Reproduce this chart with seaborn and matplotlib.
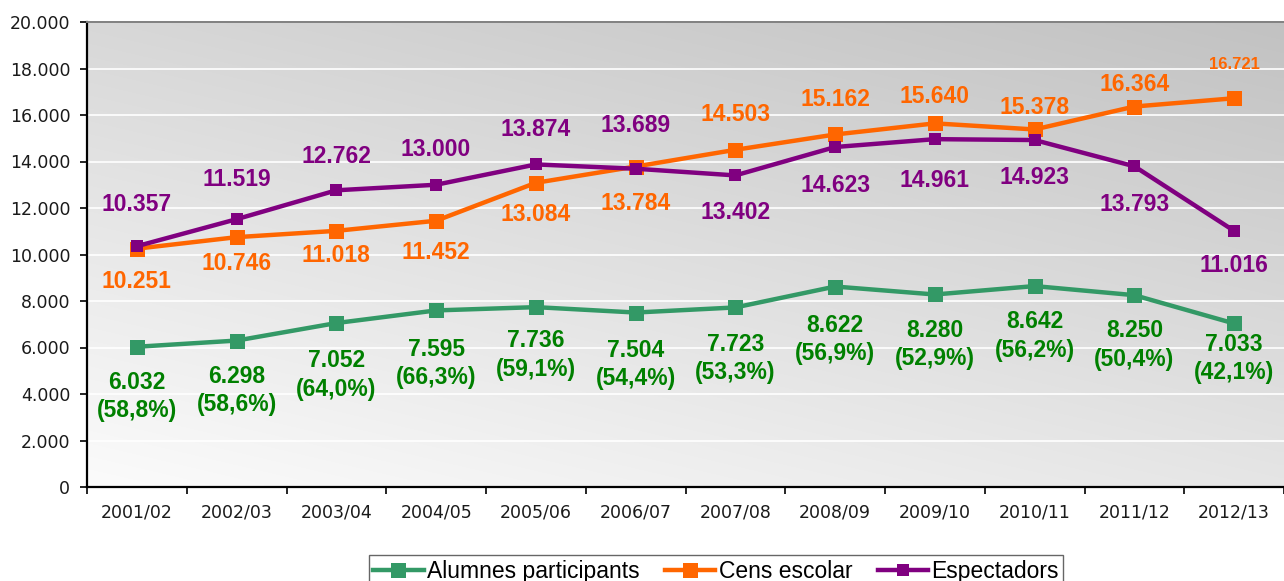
import numpy as np
import pandas as pd
import matplotlib
matplotlib.use("Agg")
import matplotlib.pyplot as plt
import seaborn as sns

# ---- data ----
years = ["2001/02", "2002/03", "2003/04", "2004/05", "2005/06", "2006/07",
         "2007/08", "2008/09", "2009/10", "2010/11", "2011/12", "2012/13"]
alumnes = [6032, 6298, 7052, 7595, 7736, 7504, 7723, 8622, 8280, 8642, 8250, 7033]
alumnes_pct = ["58,8%", "58,6%", "64,0%", "66,3%", "59,1%", "54,4%",
               "53,3%", "56,9%", "52,9%", "56,2%", "50,4%", "42,1%"]
cens = [10251, 10746, 11018, 11452, 13084, 13784, 14503, 15162, 15640, 15378, 16364, 16721]
espectadors = [10357, 11519, 12762, 13000, 13874, 13689, 13402, 14623, 14961, 14923, 13793, 11016]
series_names = ["Alumnes participants", "Cens escolar", "Espectadors"]
yticks = [0, 2000, 4000, 6000, 8000, 10000, 12000, 14000, 16000, 18000, 20000]

# ---- styles ----
line_colors = ["#339966", "#FF6600", "#800080"]
label_colors = ["#008000", "#FF6600", "#800080"]
marker_sizes = [10.8, 10.8, 8.0]
# label vertical offsets in pixels (positive = below the point)
green_off = [50, 50, 52, 53, 48, 52, 51, 53, 50, 50, 50, 35]
orange_off = [33, 26, 25, 32, 32, 37, -35, -35, -27, -22, -22, -34]
purple_off = [-42, -40, -34, -35, -35, -43, 37, 38, 41, 37, 38, 35]

W, H = 1284, 581
fig = plt.figure(figsize=(W / 100, H / 100), dpi=100)
ax = fig.add_axes([87 / W, 94 / H, (W - 87) / W, 465 / H])

# gradient background
nx, ny = 200, 100
gx = np.linspace(0, 1, nx)[None, :]
gy = np.linspace(1, 0, ny)[:, None]
g = 0.985 - 0.085 * gx - 0.14 * gy
rgb = np.dstack([g, g, g])
ax.imshow(rgb, extent=[0, 1, 0, 1], transform=ax.transAxes, aspect="auto",
          zorder=-1, interpolation="bilinear")

df = pd.DataFrame({"year": years, series_names[0]: alumnes,
                   series_names[1]: cens, series_names[2]: espectadors})

for name, lc, ms in zip(series_names, line_colors, marker_sizes):
    sns.lineplot(data=df, x="year", y=name, ax=ax, color=lc, lw=3.2,
                 marker="s", markersize=ms, markeredgewidth=0, sort=False,
                 label=name, zorder=3)

ax.set_xlim(-0.5, 11.47)
ax.set_ylim(0, 20000)
ax.set_xlabel("")
ax.set_ylabel("")

# labels
bold = dict(family="Liberation Sans", weight="bold", fontsize=16.5)
for i, (v, p) in enumerate(zip(alumnes, alumnes_pct)):
    ax.annotate(f"{v:,}".replace(",", ".") + f"\n({p})", (i, v),
                xytext=(0, -green_off[i]), textcoords="offset pixels",
                ha="center", va="center", color=label_colors[0],
                linespacing=1.3, zorder=5, **bold)
for i, v in enumerate(cens):
    kw = dict(bold)
    if i == len(cens) - 1:
        kw["fontsize"] = 12
    ax.annotate(f"{v:,}".replace(",", "."), (i, v),
                xytext=(0, -orange_off[i]), textcoords="offset pixels",
                ha="center", va="center", color=label_colors[1], zorder=5, **kw)
for i, v in enumerate(espectadors):
    ax.annotate(f"{v:,}".replace(",", "."), (i, v),
                xytext=(0, -purple_off[i]), textcoords="offset pixels",
                ha="center", va="center", color=label_colors[2], zorder=5, **bold)

# axes styling
ax.set_yticks(yticks)
ax.set_yticklabels([f"{t:,}".replace(",", ".") for t in yticks])
ax.set_xticks(range(len(years)))
ax.set_xticklabels(years)
ax.set_xticks(np.arange(-0.5, len(years), 1.0), minor=True)
ax.tick_params(axis="x", which="major", length=0, pad=12, labelsize=12.5, labelcolor="#1a1a1a")
ax.tick_params(axis="x", which="minor", length=5, width=1.2, color="black")
ax.tick_params(axis="y", length=5, width=1.2, pad=7, labelsize=12.5, labelcolor="#1a1a1a")
for lab in ax.get_xticklabels() + ax.get_yticklabels():
    lab.set_family("DejaVu Sans")

ax.yaxis.grid(True, color="white", lw=1.2)
ax.set_axisbelow(True)
ax.spines["left"].set_color("black")
ax.spines["left"].set_linewidth(1.6)
ax.spines["bottom"].set_color("black")
ax.spines["bottom"].set_linewidth(1.6)
ax.spines["top"].set_color("#808080")
ax.spines["top"].set_linewidth(1.4)
ax.spines["right"].set_visible(False)

handles, labels = ax.get_legend_handles_labels()
ax.get_legend().remove()
leg = fig.legend(handles, labels, loc="upper center",
                 bbox_to_anchor=(716 / W, 1 - 555 / H), ncol=3, frameon=True,
                 fancybox=False, edgecolor="#404040",
                 handlelength=2.2, handletextpad=0.15, columnspacing=1.1,
                 borderpad=0.2, borderaxespad=0,
                 prop={"family": "Liberation Sans", "size": 16.5})
leg.get_frame().set_linewidth(1.0)

fig.savefig("out.png", dpi=100)
